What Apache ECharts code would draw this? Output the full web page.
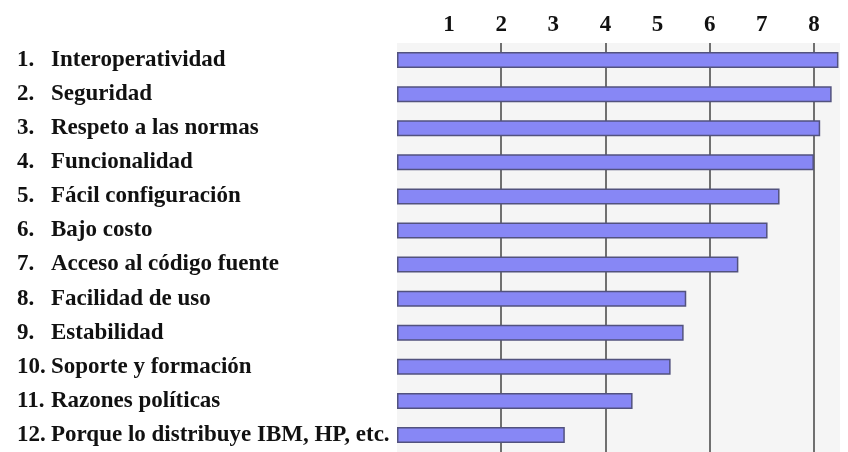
<!DOCTYPE html>
<html>
<head>
<meta charset="utf-8">
<script src="https://cdn.jsdelivr.net/npm/echarts@6/dist/echarts.min.js"></script>
<style>
  html, body { margin: 0; padding: 0; background: #ffffff; }
  #chart { width: 848px; height: 452px; }
</style>
</head>
<body>
<div id="chart"></div>
<script>
// Ranked reasons, in order
const rankNumbers = ['1.', '2.', '3.', '4.', '5.', '6.', '7.', '8.', '9.', '10.', '11.', '12.'];
const reasons = [
  'Interoperatividad',
  'Seguridad',
  'Respeto a las normas',
  'Funcionalidad',
  'Fácil configuración',
  'Bajo costo',
  'Acceso al código fuente',
  'Facilidad de uso',
  'Estabilidad',
  'Soporte y formación',
  'Razones políticas',
  'Porque lo distribuye IBM, HP, etc.'
];
// Score for each reason
const scores = [8.47, 8.34, 8.12, 8.0, 7.34, 7.11, 6.55, 5.55, 5.5, 5.25, 4.52, 3.22];
// Scale labels shown along the top
const tickLabels = ['1', '2', '3', '4', '5', '6', '7', '8'];

const categories = reasons.map((r, i) => rankNumbers[i] + '|' + r);
const serif = '"Liberation Serif", "DejaVu Serif", serif';

const chart = echarts.init(document.getElementById('chart'), null, { renderer: 'canvas' });

chart.setOption({
  animation: false,
  backgroundColor: '#ffffff',
  grid: {
    left: 397,
    right: 8,
    top: 43,
    height: 411,
    show: true,
    backgroundColor: '#f5f5f5',
    borderWidth: 0,
    containLabel: false
  },
  xAxis: [
    {
      type: 'value',
      position: 'top',
      min: 0,
      max: 8.5,
      interval: 1,
      axisLine: { show: false },
      axisTick: { show: false },
      splitLine: { show: false },
      axisLabel: {
        show: true,
        margin: 6,
        showMinLabel: false,
        showMaxLabel: false,
        color: '#111111',
        fontFamily: serif,
        fontWeight: 'bold',
        fontSize: 23,
        formatter: function (v) {
          const i = Math.round(v) - 1;
          return (Math.abs(v - Math.round(v)) < 1e-6 && i >= 0 && i < tickLabels.length) ? tickLabels[i] : '';
        }
      }
    },
    {
      type: 'value',
      position: 'top',
      min: 0,
      max: 8.5,
      interval: 2,
      axisLine: { show: false },
      axisTick: { show: false },
      axisLabel: { show: false },
      splitLine: {
        show: true,
        lineStyle: {
          width: 2,
          color: ['rgba(0,0,0,0)', '#707070', '#707070', '#707070', '#707070', 'rgba(0,0,0,0)']
        }
      }
    }
  ],
  yAxis: {
    type: 'category',
    inverse: true,
    data: categories,
    axisLine: { show: false },
    axisTick: { show: false },
    splitLine: { show: false },
    axisLabel: {
      align: 'left',
      margin: 380,
      formatter: function (v) {
        const parts = v.split('|');
        return '{n|' + parts[0] + '}{t|' + parts[1] + '}';
      },
      rich: {
        n: {
          width: 34,
          color: '#111111',
          fontFamily: serif,
          fontWeight: 'bold',
          fontSize: 23
        },
        t: {
          color: '#111111',
          fontFamily: serif,
          fontWeight: 'bold',
          fontSize: 23
        }
      }
    }
  },
  series: [
    {
      type: 'bar',
      xAxisIndex: 0,
      data: scores,
      barWidth: 16,
      itemStyle: {
        color: '#8787f5',
        borderColor: '#52527e',
        borderWidth: 1.5
      }
    }
  ]
});
</script>
</body>
</html>
